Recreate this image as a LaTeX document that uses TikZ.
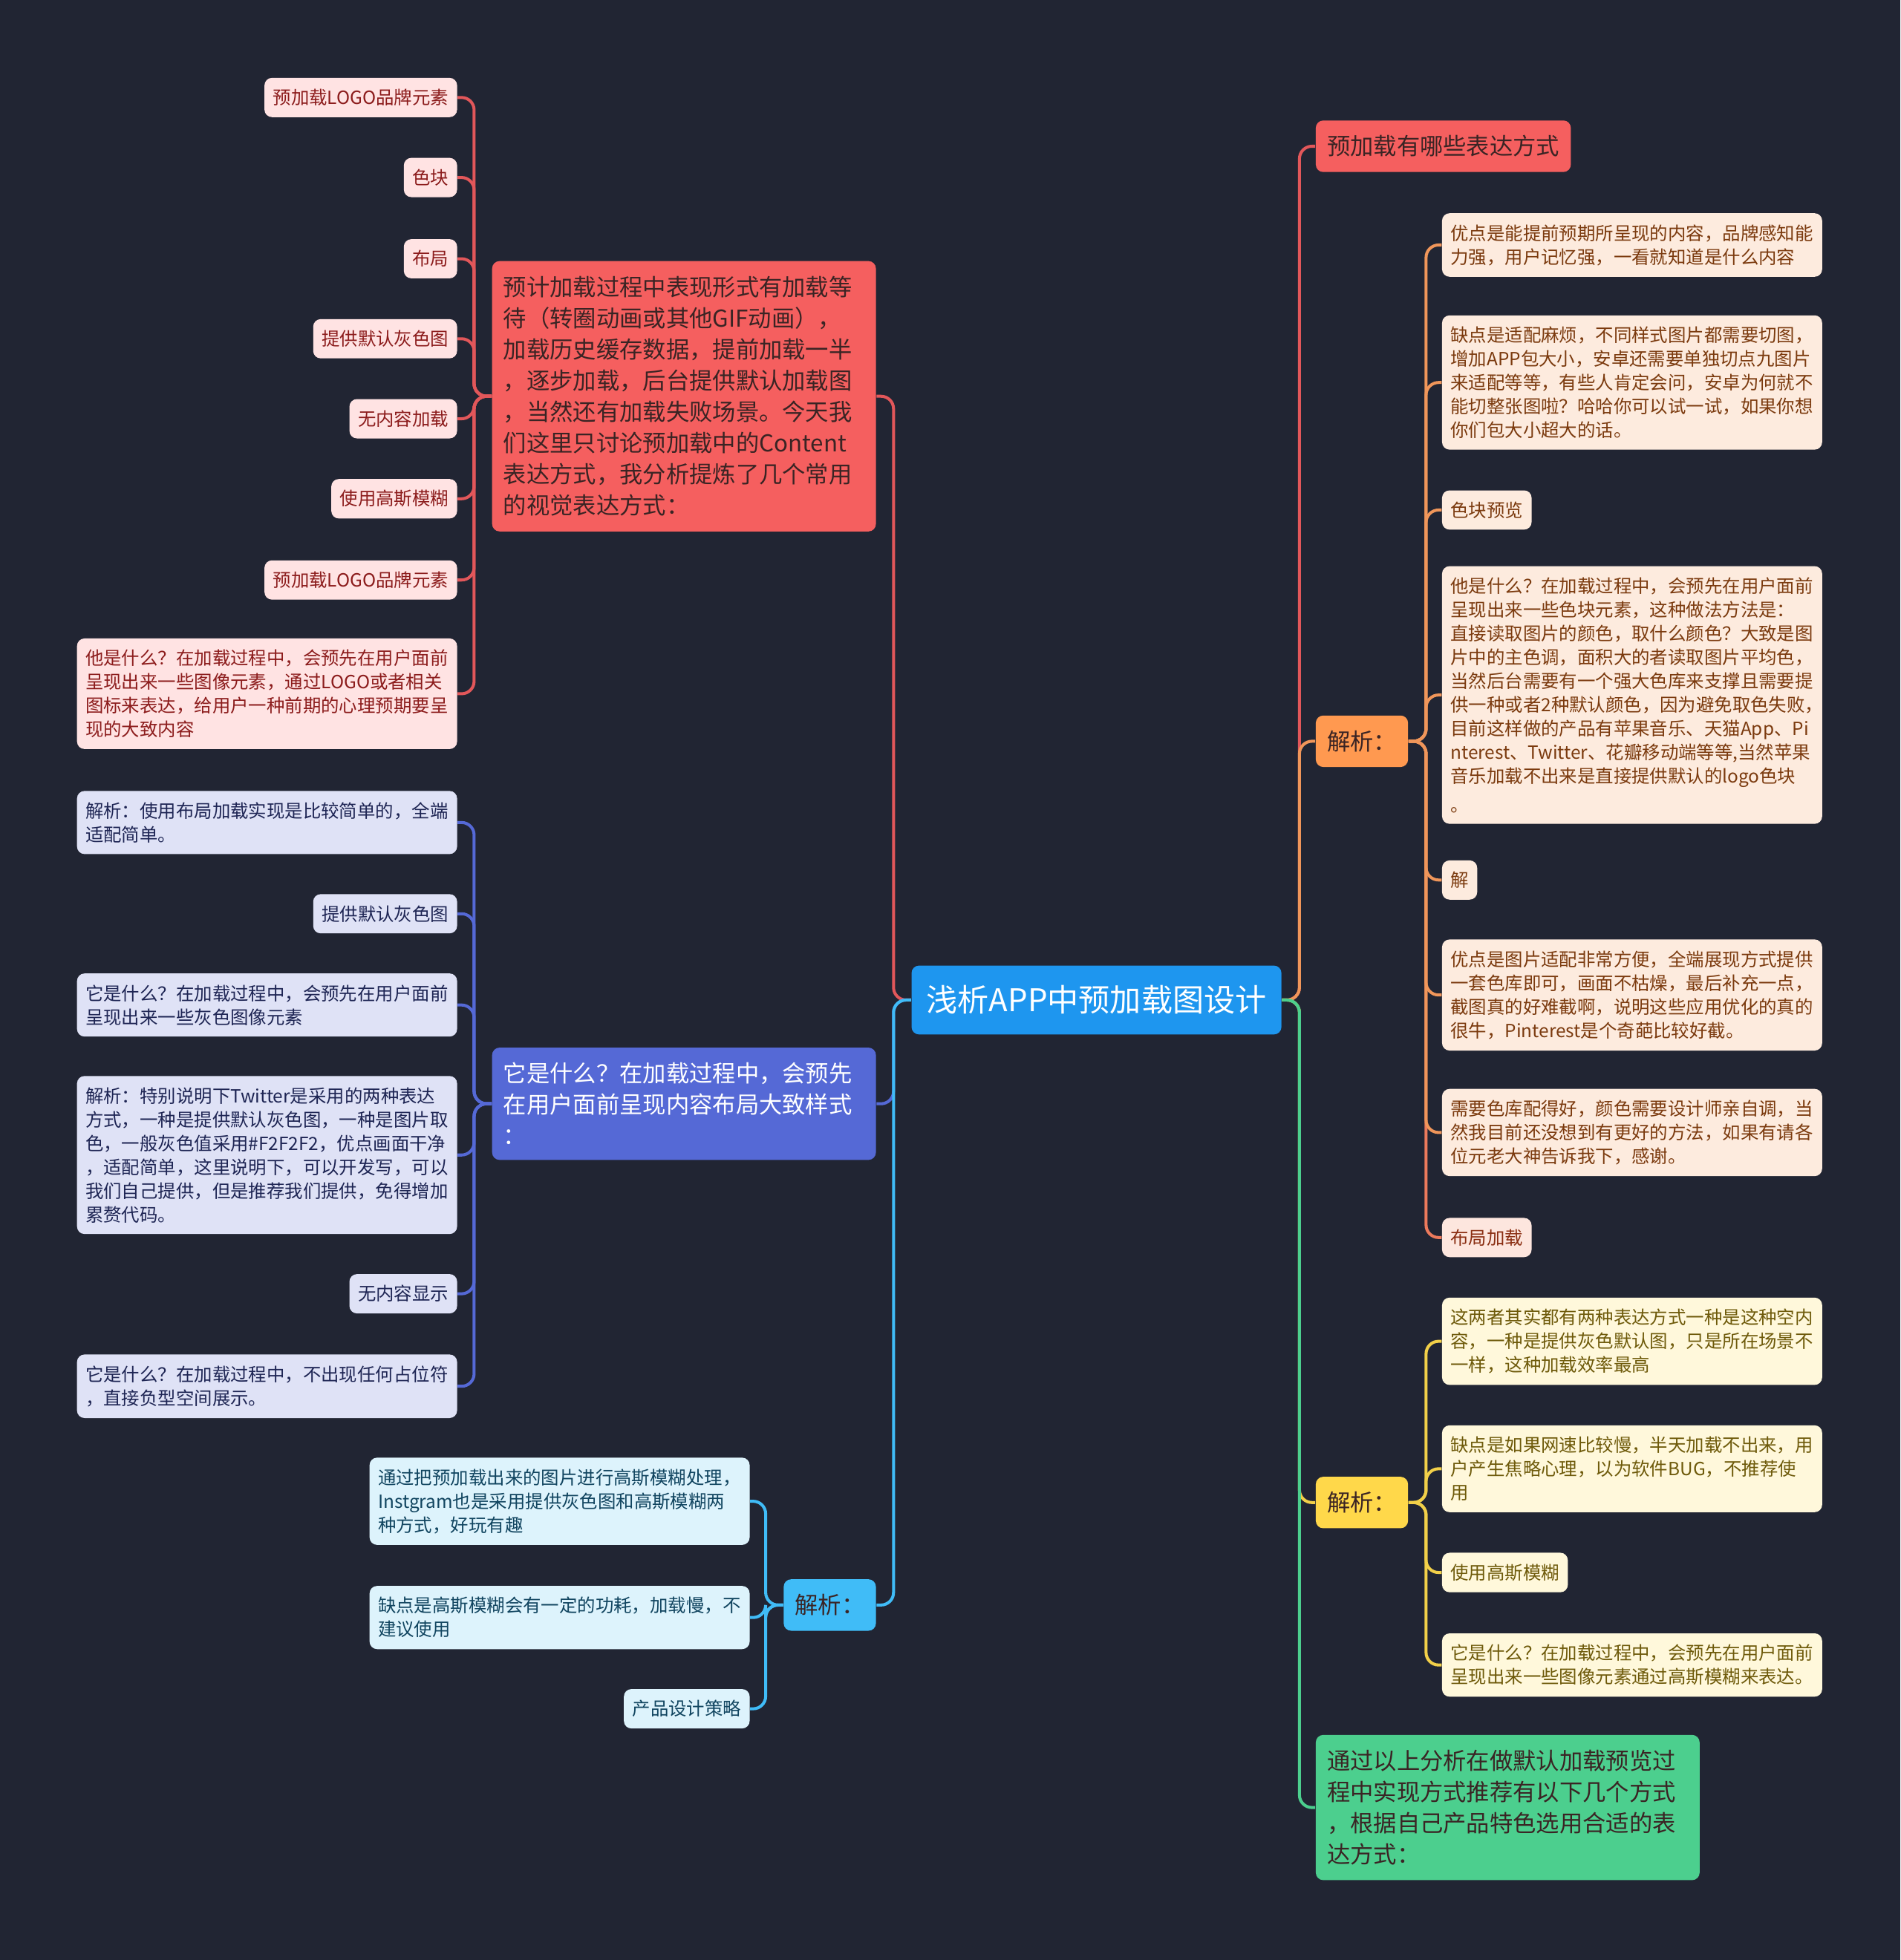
\documentclass[tikz,border=0pt]{standalone}
\usepackage{fontspec}
\setmainfont{Noto Sans CJK SC}
\definecolor{bg}{HTML}{212533}
\definecolor{cRed}{HTML}{F55F5F}
\definecolor{cBlue}{HTML}{5569D6}
\definecolor{cCyan}{HTML}{40BCF7}
\definecolor{cOrange}{HTML}{FF9950}
\definecolor{cYellow}{HTML}{FFD84A}
\definecolor{cGreen}{HTML}{4CCF8E}
\definecolor{cCenter}{HTML}{1E96EF}
\definecolor{lRed}{HTML}{E2575A}
\definecolor{lOrange}{HTML}{F0965A}
\definecolor{lCoral}{HTML}{EC7A5C}
\definecolor{lYellow}{HTML}{F2D049}
\definecolor{fRed}{HTML}{FFE3E3}
\definecolor{tRed}{HTML}{8C1C1C}
\definecolor{fBlue}{HTML}{DFE2F6}
\definecolor{tBlue}{HTML}{1E2554}
\definecolor{fCyan}{HTML}{DDF3FC}
\definecolor{tCyan}{HTML}{114560}
\definecolor{fOrange}{HTML}{FDEBDE}
\definecolor{tOrange}{HTML}{7B3A0E}
\definecolor{fCoral}{HTML}{FDE6DE}
\definecolor{tCoral}{HTML}{8A2E12}
\definecolor{fYellow}{HTML}{FFF8DB}
\definecolor{tYellow}{HTML}{6E5A0A}
\definecolor{tDark}{HTML}{3A2424}
\tikzset{
  box/.style={rounded corners=3pt, align=left},
  leaf/.style={box, font=\fontsize{7.25}{9.5}\selectfont, inner xsep=3.4pt, inner ysep=4.5pt},
  wideleaf/.style={leaf, text width=145.2pt},
  mid/.style={box, font=\fontsize{9.3}{12.5}\selectfont, inner xsep=4.5pt, inner ysep=6pt},
  widemid/.style={mid, text width=144.5pt},
  redleaf/.style={fill=fRed, text=tRed},
  blueleaf/.style={fill=fBlue, text=tBlue},
  cyanleaf/.style={fill=fCyan, text=tCyan},
  orangeleaf/.style={fill=fOrange, text=tOrange},
  coralleaf/.style={fill=fCoral, text=tCoral},
  yellowleaf/.style={fill=fYellow, text=tYellow},
  conn/.style={line width=1.2pt, rounded corners=5pt},
}
\begin{document}
\begin{tikzpicture}[x=0.5pt,y=-0.5pt]
\fill[bg] (0,0) rectangle (1520,1568);
\useasboundingbox (0,0) rectangle (1520,1568);

% center
\node[box, fill=cCenter, text=white, font=\fontsize{12.5}{15}\selectfont, inner xsep=6pt, inner ysep=8pt] (c) at (877,800) {浅析APP中预加载图设计};

% left main nodes
\node[widemid, fill=cRed, text=tDark, anchor=east] (rm) at (701,317) {预计加载过程中表现形式有加载等\\待（转圈动画或其他GIF动画），\\加载历史缓存数据，提前加载一半\\，逐步加载，后台提供默认加载图\\，当然还有加载失败场景。今天我\\们这里只讨论预加载中的Content\\表达方式，我分析提炼了几个常用\\的视觉表达方式：};
\node[widemid, fill=cBlue, text=white, anchor=east] (bm) at (701,883) {它是什么？在加载过程中，会预先\\在用户面前呈现内容布局大致样式\\：};
\node[mid, fill=cCyan, text=tDark, anchor=east] (cm) at (701,1284) {解析：};

% right main nodes
\node[mid, fill=cRed, text=tDark, anchor=west] (r2) at (1052,117) {预加载有哪些表达方式};
\node[mid, fill=cOrange, text=tDark, anchor=west] (om) at (1052,593) {解析：};
\node[mid, fill=cYellow, text=tDark, anchor=west] (ym) at (1052,1202) {解析：};
\node[widemid, fill=cGreen, text=tDark, anchor=west] (gm) at (1052,1446) {通过以上分析在做默认加载预览过\\程中实现方式推荐有以下几个方式\\，根据自己产品特色选用合适的表\\达方式：};

% red leaves
\node[leaf, redleaf, anchor=east] (r1) at (366,78) {预加载LOGO品牌元素};
\node[leaf, redleaf, anchor=east] (r2a) at (366,142) {色块};
\node[leaf, redleaf, anchor=east] (r3) at (366,207) {布局};
\node[leaf, redleaf, anchor=east] (r4) at (366,271) {提供默认灰色图};
\node[leaf, redleaf, anchor=east] (r5) at (366,335) {无内容加载};
\node[leaf, redleaf, anchor=east] (r6) at (366,399) {使用高斯模糊};
\node[leaf, redleaf, anchor=east] (r7) at (366,464) {预加载LOGO品牌元素};
\node[wideleaf, redleaf, anchor=east] (r8) at (366,555) {他是什么？在加载过程中，会预先在用户面前\\呈现出来一些图像元素，通过LOGO或者相关\\图标来表达，给用户一种前期的心理预期要呈\\现的大致内容};

% blue leaves
\node[wideleaf, blueleaf, anchor=east] (b1) at (366,658) {解析：使用布局加载实现是比较简单的，全端\\适配简单。};
\node[leaf, blueleaf, anchor=east] (b2) at (366,731) {提供默认灰色图};
\node[wideleaf, blueleaf, anchor=east] (b3) at (366,804) {它是什么？在加载过程中，会预先在用户面前\\呈现出来一些灰色图像元素};
\node[wideleaf, blueleaf, anchor=east] (b4) at (366,924) {解析：特别说明下Twitter是采用的两种表达\\方式，一种是提供默认灰色图，一种是图片取\\色，一般灰色值采用\#F2F2F2，优点画面干净\\，适配简单，这里说明下，可以开发写，可以\\我们自己提供，但是推荐我们提供，免得增加\\累赘代码。};
\node[leaf, blueleaf, anchor=east] (b5) at (366,1035) {无内容显示};
\node[wideleaf, blueleaf, anchor=east] (b6) at (366,1109) {它是什么？在加载过程中，不出现任何占位符\\，直接负型空间展示。};

% cyan leaves
\node[wideleaf, cyanleaf, anchor=east] (k1) at (600,1201) {通过把预加载出来的图片进行高斯模糊处理，\\Instgram也是采用提供灰色图和高斯模糊两\\种方式，好玩有趣};
\node[wideleaf, cyanleaf, anchor=east] (k2) at (600,1294) {缺点是高斯模糊会有一定的功耗，加载慢，不\\建议使用};
\node[leaf, cyanleaf, anchor=east] (k3) at (600,1367) {产品设计策略};

% orange leaves
\node[wideleaf, orangeleaf, anchor=west] (o1) at (1153,196) {优点是能提前预期所呈现的内容，品牌感知能\\力强，用户记忆强，一看就知道是什么内容};
\node[wideleaf, orangeleaf, anchor=west] (o2) at (1153,306) {缺点是适配麻烦，不同样式图片都需要切图，\\增加APP包大小，安卓还需要单独切点九图片\\来适配等等，有些人肯定会问，安卓为何就不\\能切整张图啦？哈哈你可以试一试，如果你想\\你们包大小超大的话。};
\node[leaf, orangeleaf, anchor=west] (o3) at (1153,408) {色块预览};
\node[wideleaf, orangeleaf, anchor=west] (o4) at (1153,556) {他是什么？在加载过程中，会预先在用户面前\\呈现出来一些色块元素，这种做法方法是：\\直接读取图片的颜色，取什么颜色？大致是图\\片中的主色调，面积大的者读取图片平均色，\\当然后台需要有一个强大色库来支撑且需要提\\供一种或者2种默认颜色，因为避免取色失败，\\目前这样做的产品有苹果音乐、天猫App、Pi\\nterest、Twitter、花瓣移动端等等,当然苹果\\音乐加载不出来是直接提供默认的logo色块\\[2pt]。};
\node[leaf, orangeleaf, anchor=west] (o5) at (1153,704) {解};
\node[wideleaf, orangeleaf, anchor=west] (o6) at (1153,796) {优点是图片适配非常方便，全端展现方式提供\\一套色库即可，画面不枯燥，最后补充一点，\\截图真的好难截啊，说明这些应用优化的真的\\很牛，Pinterest是个奇葩比较好截。};
\node[wideleaf, orangeleaf, anchor=west] (o7) at (1153,906) {需要色库配得好，颜色需要设计师亲自调，当\\然我目前还没想到有更好的方法，如果有请各\\位元老大神告诉我下，感谢。};
\node[leaf, coralleaf, anchor=west] (o8) at (1153,990) {布局加载};

% yellow leaves
\node[wideleaf, yellowleaf, anchor=west] (y1) at (1153,1073) {这两者其实都有两种表达方式一种是这种空内\\容，一种是提供灰色默认图，只是所在场景不\\一样，这种加载效率最高};
\node[wideleaf, yellowleaf, anchor=west] (y2) at (1153,1175) {缺点是如果网速比较慢，半天加载不出来，用\\户产生焦略心理，以为软件BUG，不推荐使\\用};
\node[leaf, yellowleaf, anchor=west] (y3) at (1153,1258) {使用高斯模糊};
\node[wideleaf, yellowleaf, anchor=west] (y4) at (1153,1332) {它是什么？在加载过程中，会预先在用户面前\\呈现出来一些图像元素通过高斯模糊来表达。};

% connectors: center to main
\draw[conn, lRed] (c.west) -- ++(-14,0) |- (rm.east);
\draw[conn, cBlue] (c.west) -- ++(-14,0) |- (bm.east);
\draw[conn, cCyan] (c.west) -- ++(-14,0) |- (cm.east);
\draw[conn, lRed] (c.east) -- ++(14,0) |- (r2.west);
\draw[conn, lOrange] (c.east) -- ++(14,0) |- (om.west);
\draw[conn, lYellow] (c.east) -- ++(14,0) |- (ym.west);
\draw[conn, cGreen] (c.east) -- ++(14,0) |- (gm.west);

% red main to leaves
\foreach \n in {r1,r2a,r3,r4,r5,r6,r7,r8}
  \draw[conn, lRed] (rm.west) -- ++(-14,0) |- (\n.east);
% blue main to leaves
\foreach \n in {b1,b2,b3,b4,b5,b6}
  \draw[conn, cBlue] (bm.west) -- ++(-14,0) |- (\n.east);
% cyan to leaves
\foreach \n in {k1,k2,k3}
  \draw[conn, cCyan] (cm.west) -- ++(-14,0) |- (\n.east);
% orange to leaves
\draw[conn, lCoral] (om.east) -- ++(14,0) |- (o8.west);
\foreach \n in {o1,o2,o3,o4,o5,o6,o7}
  \draw[conn, lOrange] (om.east) -- ++(14,0) |- (\n.west);
% yellow to leaves
\foreach \n in {y1,y2,y3,y4}
  \draw[conn, lYellow] (ym.east) -- ++(14,0) |- (\n.west);
\end{tikzpicture}
\end{document}
